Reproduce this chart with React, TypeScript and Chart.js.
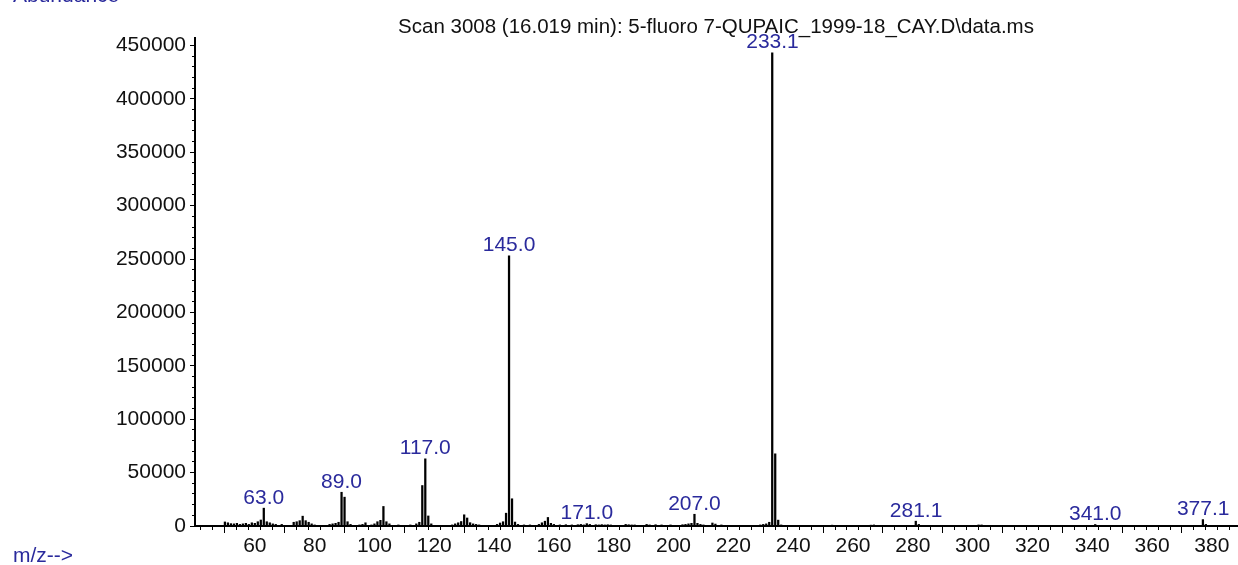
import React, { useEffect, useRef } from 'react';
import { Chart, registerables } from 'chart.js';

Chart.register(...registerables);

// m/z values of the spectrum peaks
const mzValues = [
  50, 51, 52, 53, 54, 55, 56, 57, 58, 59, 60, 61, 62, 63, 64, 65, 66, 67, 69,
  73, 74, 75, 76, 77, 78, 79, 80, 85, 86, 87, 88, 89, 90, 91, 92, 95, 96, 97,
  99, 100, 101, 102, 103, 104, 105, 108, 112, 114, 115, 116, 117, 118, 119,
  126, 127, 128, 129, 130, 131, 132, 133, 134, 135, 141, 142, 143, 144, 145,
  146, 147, 148, 150, 152, 155, 156, 157, 158, 159, 160, 162, 164, 166, 168,
  169, 170, 171, 172, 174, 175, 176, 177, 178, 179, 184, 185, 186, 187, 191,
  192, 194, 196, 199, 203, 204, 205, 206, 207, 208, 209, 210, 213, 214, 216,
  229, 230, 231, 232, 233, 234, 235, 236, 245, 253, 266, 267, 281, 282, 302,
  303, 341, 377, 378,
];

// abundances, same order as mzValues
const abundances = [
  3800, 3000, 2200, 2000, 2500, 1500, 2000, 2500, 1500, 3000, 2500, 4000, 5600, 16700, 4000, 3000, 2000, 1500, 1500,
  3500, 4000, 5000, 9200, 5000, 3500, 2000, 1000, 1500, 2000, 2500, 3500, 31600, 27000, 4000, 1500, 1000, 1500, 3000,
  1000, 2000, 4000, 5300, 18300, 4000, 2000, 1000, 1000, 2000, 3500, 37900, 62900, 9400, 2000,
  1000, 2000, 3000, 4200, 10500, 7500, 3100, 2000, 1500, 1000, 1500, 2800, 4000, 12000, 253000,
  25500, 3700, 1500, 1000, 1000, 1500, 3000, 4500, 8000, 2500, 1500, 1000, 1200, 1000, 1200,
  1500, 1000, 2200, 1500, 1200, 1000, 1300, 1000, 1200, 1000, 1500, 1200, 1000, 1000, 1500,
  1000, 1200, 1000, 1000, 1200, 1500, 2000, 2500, 11000, 2500, 1500, 1000, 2800, 1800, 1000,
  1000, 1500, 2000, 3500, 443000, 67600, 5500, 1000, 500, 800, 800, 1000, 4500, 1500, 1000,
  1000, 1400, 6000, 1500,
];

// labelled peaks
const labelledMz = [63.0, 89.0, 117.0, 145.0, 171.0, 207.0, 233.1, 281.1, 341.0, 377.1];

// axis ticks
const xMajorTicks = [60, 80, 100, 120, 140, 160, 180, 200, 220, 240, 260, 280, 300, 320, 340, 360, 380];
const xMinorStep = 4;
const yMajorTicks = [0, 50000, 100000, 150000, 200000, 250000, 300000, 350000, 400000, 450000];
const yMinorStep = 10000;

const titleText = 'Scan 3008 (16.019 min): 5-fluoro 7-QUPAIC_1999-18_CAY.D\\data.ms';
const yTitleText = 'Abundance';
const xTitleText = 'm/z-->';

const FONT_FAMILY = "'Liberation Sans', Arial, sans-serif";
const BLUE = '#2a2a9c';

const X_MIN = 40;
const X_MAX = 388.4;
const Y_MAX = 457000;

const stepValues = (min: number, max: number, step: number) => {
  const out: { value: number }[] = [];
  for (let v = Math.ceil(min / step) * step; v <= max; v += step) out.push({ value: v });
  return out;
};

const textPlugin = {
  id: 'msText',
  afterDraw(chart: any) {
    const ctx = chart.ctx;
    const xs = chart.scales.x;
    const ys = chart.scales.y;
    ctx.save();
    ctx.font = `20.5px ${FONT_FAMILY}`;
    ctx.textAlign = 'center';
    ctx.textBaseline = 'alphabetic';
    ctx.fillStyle = '#111';
    ctx.fillText(titleText, (chart.chartArea.left + chart.chartArea.right) / 2, 33);

    ctx.fillStyle = BLUE;
    ctx.font = `21px ${FONT_FAMILY}`;
    labelledMz.forEach((m) => {
      const idx = mzValues.indexOf(Math.round(m));
      const v = idx >= 0 ? abundances[idx] : 0;
      const px = xs.getPixelForValue(m);
      const py = ys.getPixelForValue(v);
      ctx.fillText(m.toFixed(1), px, py - 4.5);
    });

    ctx.textAlign = 'left';
    ctx.fillText(yTitleText, 13, 2);
    ctx.fillText(xTitleText, 13, 562);
    ctx.restore();
  },
};

export default function App() {
  const canvasRef = useRef<HTMLCanvasElement | null>(null);

  useEffect(() => {
    const canvas = canvasRef.current;
    if (!canvas) return;
    Chart.defaults.font.family = FONT_FAMILY;
    const tickFont = { size: 21, family: FONT_FAMILY };
    const chart = new Chart(canvas, {
      type: 'bar',
      data: {
        datasets: [
          {
            data: mzValues.map((m, i) => ({ x: m, y: abundances[i] })),
            backgroundColor: '#000',
            borderWidth: 0,
            barThickness: 1.6,
          },
        ],
      },
      options: {
        animation: false,
        responsive: false,
        devicePixelRatio: 1,
        layout: { padding: { top: 38, right: 1, left: 0, bottom: 0 } },
        plugins: {
          legend: { display: false },
          tooltip: { enabled: false },
          title: { display: false },
        },
        scales: {
          x: {
            type: 'linear',
            position: 'bottom',
            min: X_MIN,
            max: X_MAX,
            offset: false,
            afterBuildTicks: (s: any) => {
              s.ticks = xMajorTicks.map((v) => ({ value: v }));
            },
            grid: { display: true, drawOnChartArea: false, drawTicks: true, tickLength: 7, color: '#000', lineWidth: 1 },
            border: { display: true, color: '#000', width: 2 },
            ticks: {
              autoSkip: false,
              maxRotation: 0,
              padding: 1,
              color: '#111',
              font: tickFont,
              callback: (v: any) => String(v),
            },
            afterFit: (s: any) => {
              s.height = 39;
            },
          },
          xMinor: {
            type: 'linear',
            axis: 'x',
            position: { y: 0 },
            min: X_MIN,
            max: X_MAX,
            offset: false,
            afterBuildTicks: (s: any) => {
              s.ticks = stepValues(X_MIN + xMinorStep, X_MAX, xMinorStep);
            },
            grid: { display: true, drawOnChartArea: false, drawTicks: true, tickLength: 4, color: '#000', lineWidth: 1 },
            border: { display: false },
            ticks: { display: false, autoSkip: false },
          },
          y: {
            type: 'linear',
            position: 'left',
            min: 0,
            max: Y_MAX,
            afterBuildTicks: (s: any) => {
              s.ticks = yMajorTicks.map((v) => ({ value: v }));
            },
            grid: { display: true, drawOnChartArea: false, drawTicks: true, tickLength: 5, color: '#000', lineWidth: 1 },
            border: { display: true, color: '#000', width: 2 },
            ticks: {
              autoSkip: false,
              padding: 4,
              color: '#111',
              font: tickFont,
              callback: (v: any) => String(v),
            },
            afterFit: (s: any) => {
              s.width = 195;
            },
          },
          yMinor: {
            type: 'linear',
            axis: 'y',
            position: { x: X_MIN },
            min: 0,
            max: Y_MAX,
            afterBuildTicks: (s: any) => {
              s.ticks = stepValues(0, Y_MAX, yMinorStep);
            },
            grid: { display: true, drawOnChartArea: false, drawTicks: true, tickLength: 3, color: '#000', lineWidth: 1 },
            border: { display: false },
            ticks: { display: false, autoSkip: false },
          },
        },
      } as any,
      plugins: [textPlugin],
    });
    return () => chart.destroy();
  }, []);

  return (
    <div style={{ position: 'fixed', left: 0, top: 0, width: 1238, height: 565, background: '#fff' }}>
      <canvas ref={canvasRef} width={1238} height={565} style={{ display: 'block', width: 1238, height: 565 }} />
    </div>
  );
}
